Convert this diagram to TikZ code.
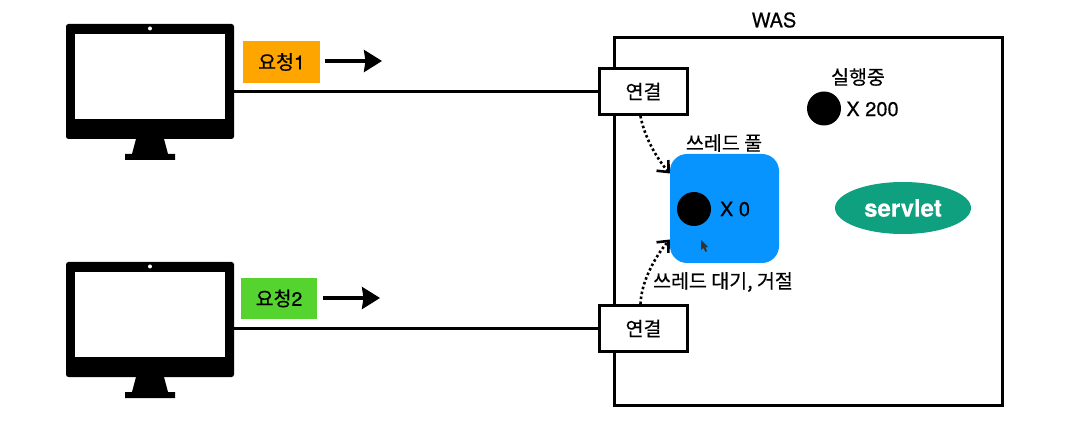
\documentclass[tikz,border=0pt]{standalone}
\usepackage{fontspec}
\setmainfont{TeX Gyre Heros}[FakeBold=0.35]
\newfontfamily\kr{Noto Sans CJK KR}[FakeBold=0.35]
\definecolor{orange1}{RGB}{255,165,0}
\definecolor{vert1}{RGB}{85,212,47}
\definecolor{bleu1}{RGB}{8,148,255}
\definecolor{vert2}{RGB}{14,160,127}
\usetikzlibrary{arrows.meta,bending,positioning,shapes.geometric}
\tikzset{
	texte/.style={inner sep=0pt,font=\fontsize{19.5}{22}\selectfont\kr},
	chiffre/.style={inner sep=0pt,font=\fontsize{20}{22}\selectfont},
	lien/.style={draw=black,line width=2.6pt},
	connbox/.style={draw=black,fill=white,line width=3pt,inner sep=0pt,minimum width=88pt,minimum height=46pt,texte},
	reqbox/.style={inner sep=0pt,minimum width=77pt,minimum height=42pt,font=\fontsize{19.5}{22}\selectfont},
	point/.style={circle,fill=black,inner sep=0pt,minimum size=34pt},
	wait/.style={line width=2.6pt,dash pattern=on 2.5pt off 2.5pt,-{Straight Barb[length=9pt,width=16pt,flex=0]}},
	reqarrow/.style={line width=3.4pt,-{Stealth[length=18pt,width=22pt,inset=1.5pt]}}
}
\begin{document}
\begin{tikzpicture}[x=1pt,y=-1pt]
	\useasboundingbox (0,0) rectangle (1073,443);
	% ecrans
	\foreach \n/\d in {1/0,2/238}{
		\fill (136,139+\d)--(164,139+\d)--(168,154+\d)--(175,154+\d)--(175,160+\d)--(125,160+\d)--(125,154+\d)--(132,154+\d)--cycle;
		\node[fill=black,rounded corners=2.5pt,inner sep=0pt,minimum width=168pt,minimum height=115pt] (pc\n) at (150,81.5+\d){};
		\node[fill=white,inner sep=0pt,minimum width=150pt,minimum height=85pt] (screen\n) at (150,76.5+\d){};
		\node[circle,fill=white,inner sep=0pt,minimum size=4pt] (cam\n) at (150,28.5+\d){};
	}
	% serveur
	\node[draw=black,line width=3pt,inner sep=0pt,minimum width=388pt,minimum height=368pt] (was) at (808.5,221.5){};
	\node[chiffre] (wastitle) at (774,20){WAS};
	% connexions
	\node[connbox] (conn1) at (643.5,91.5){연결};
	\node[connbox] (conn2) at (643.5,328.5){연결};
	\draw[lien] (pc1.east |- conn1.west)--(conn1.west);
	\draw[lien] (pc2.east |- conn2.west)--(conn2.west);
	% requetes
	\node[reqbox,fill=orange1] (req1) at (281.5,62){{\kr 요청}1};
	\node[reqbox,fill=vert1,minimum width=76pt,minimum height=41pt] (req2) at (279,298.5){{\kr 요청}2};
	\coordinate (end1) at (382,61);
	\coordinate (end2) at (380,298);
	\draw[reqarrow] ([xshift=5pt]req1.east |- end1)--(end1);
	\draw[reqarrow] ([xshift=6pt]req2.east |- end2)--(end2);
	% pool
	\node[fill=bleu1,rounded corners=17pt,inner sep=0pt,minimum size=109pt] (pool) at (724.5,208.5){};
	\node[texte] (pooltitle) at (724,143){쓰레드 풀};
	\node[point] (dot0) at (694,209){};
	\node[chiffre] (count0) at (735,209){X 0};
	\node[texte] (waittext) at (723,282){쓰레드 대기, 거절};
	\draw[wait] ([xshift=-3pt]conn1.south) to[out=-80,in=132,looseness=0.8] ([yshift=35pt]pool.west);
	\draw[wait] ([xshift=-3pt]conn2.north) to[out=88,in=-132,looseness=0.8] ([yshift=-31pt]pool.west);
	\fill[black!80] (701,240)--(701,250)--(703.5,248)--(705.5,252)--(707,251)--(705.5,247.5)--(708,247)--cycle;
	% threads
	\node[texte] (runtext) at (858,77){실행중};
	\node[point] (dot1) at (824,108.5){};
	\node[chiffre] (count1) at (872.5,109){X 200};
	\node[ellipse,fill=vert2,inner sep=0pt,minimum width=136pt,minimum height=52pt,text=white,font=\fontsize{24}{26}\selectfont\bfseries] (servlet) at (903,208){servlet};
\end{tikzpicture}
\end{document}
